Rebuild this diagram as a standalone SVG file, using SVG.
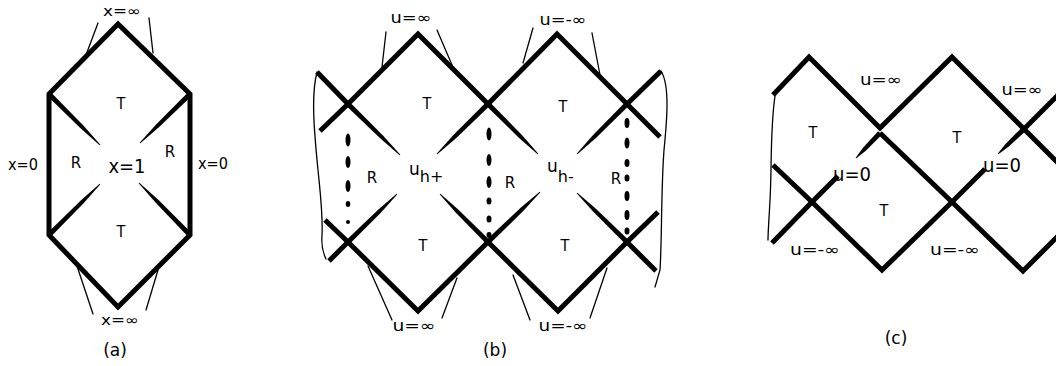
<svg xmlns="http://www.w3.org/2000/svg" width="1056" height="366" viewBox="0 0 1056 366">
<style>
.k{fill:none;stroke:#000;stroke-width:5;stroke-linejoin:miter;stroke-linecap:butt}
.s{fill:#000;stroke:none}
.t{fill:none;stroke:#000;stroke-width:1.3;stroke-linecap:round}
.l{font-family:"DejaVu Sans","Liberation Sans",sans-serif;fill:#000}
.T{font-family:"DejaVu Sans Condensed","DejaVu Sans","Liberation Sans",sans-serif;font-size:16px;fill:#000;text-anchor:middle}
.c{text-anchor:middle}
</style>
<rect width="1056" height="366" fill="#fff"/>

<!-- Panel (a) -->
<g id="panel-a">
  <g id="a-lines">
    <path class="k" d="M49,94 L118,24 L190,94 L190,235 L118,307 L49,235 Z"/>
    <polygon class="s" points="50.84,92.16 83.6,125.8 100.35,144.65 99.65,145.35 80.8,128.6 47.16,95.84"/>
    <polygon class="s" points="191.84,95.84 158.9,127.3 140.35,143.35 139.65,142.65 156.1,124.5 188.16,92.16"/>
    <polygon class="s" points="50.84,236.84 83.6,203.3 100.35,184.35 99.65,183.65 80.8,200.5 47.16,233.16"/>
    <polygon class="s" points="191.84,233.16 158.3,199.8 139.35,182.65 138.65,183.35 155.5,202.6 188.16,236.84"/>
  </g>
  <g id="a-pointers">
    <line class="t" x1="98" y1="23" x2="86" y2="55"/>
    <line class="t" x1="149" y1="18" x2="153" y2="53"/>
    <line class="t" x1="77" y1="266" x2="93" y2="314"/>
    <line class="t" x1="158" y1="270" x2="146" y2="310"/>
  </g>
  <g id="a-labels">
    <text class="l c" x="122" y="16" font-size="14" textLength="38" lengthAdjust="spacingAndGlyphs">x=∞</text>
    <text class="l c" x="120" y="325" font-size="14" textLength="38" lengthAdjust="spacingAndGlyphs">x=∞</text>
    <text class="l c" x="23" y="170" font-size="16" textLength="30" lengthAdjust="spacingAndGlyphs">x=0</text>
    <text class="l c" x="213" y="169" font-size="16" textLength="30" lengthAdjust="spacingAndGlyphs">x=0</text>
    <text class="l c" x="127" y="173" font-size="19" textLength="37" lengthAdjust="spacingAndGlyphs">x=1</text>
    <text class="l c" x="76" y="168" font-size="15">R</text>
    <text class="l c" x="170" y="157" font-size="15">R</text>
    <text class="T" x="121" y="109">T</text>
    <text class="T" x="121" y="237">T</text>
    <text class="l c" x="115" y="356" font-size="17">(a)</text>
  </g>
</g>

<!-- Panel (b) -->
<g id="panel-b">
  <g id="b-lines">
    <polyline class="k" points="320,131 348,104 418,34 488,104"/>
    <polyline class="k" points="488,104 557,34 627,104 660,137"/>
    <line class="k" x1="627" y1="104" x2="661" y2="71"/>
    <line class="k" x1="317" y1="72" x2="348" y2="104"/>
    <polygon class="s" points="349.84,102.16 383.2,135.8 400.35,154.65 399.65,155.35 380.4,138.6 346.16,105.84"/>
    <polygon class="s" points="489.84,102.16 521.9,135.1 538.35,153.65 537.65,154.35 519.1,137.9 486.16,105.84"/>
    <polygon class="s" points="489.84,105.84 456.3,137.9 437.35,154.35 436.65,153.65 453.4,135.1 486.16,102.16"/>
    <polygon class="s" points="628.84,105.84 595.9,137.9 577.35,154.35 576.65,153.65 593.1,135.1 625.16,102.16"/>
    <polyline class="k" points="325,220 348,242 418,311 488,242"/>
    <line class="k" x1="348" y1="242" x2="329" y2="261"/>
    <polyline class="k" points="488,242 558,311 627,242 658,212"/>
    <line class="k" x1="627" y1="242" x2="656" y2="271"/>
    <polygon class="s" points="349.84,243.84 381.3,212.2 397.35,194.35 396.65,193.65 378.4,209.4 346.16,240.16"/>
    <polygon class="s" points="489.84,243.84 523.2,210.9 540.35,192.35 539.65,191.65 520.4,208.1 486.16,240.16"/>
    <polygon class="s" points="489.84,240.16 458.2,209.4 440.35,193.65 439.65,194.35 455.4,212.2 486.16,243.84"/>
    <polygon class="s" points="628.84,240.16 595.9,208.7 577.35,192.65 576.65,193.35 593.1,211.6 625.16,243.84"/>
  </g>
  <g id="b-edges">
    <path class="t" d="M317,72 C311,95 314,130 318,170 C321,200 323,215 322,235 C321,248 324,255 326,259"/>
    <path class="t" d="M661,71 C670,85 667,120 664,150 C661,190 662,240 660,270 L655,287"/>
  </g>
  <g id="b-horizons">
    <ellipse class="s" cx="348" cy="140" rx="2.5" ry="6.5"/>
    <ellipse class="s" cx="348" cy="162" rx="2.5" ry="6"/>
    <ellipse class="s" cx="348" cy="186" rx="2.5" ry="6"/>
    <ellipse class="s" cx="348" cy="204" rx="2.3" ry="3"/>
    <ellipse class="s" cx="348" cy="222" rx="2" ry="2"/>
    <ellipse class="s" cx="489" cy="134" rx="2.5" ry="6.5"/>
    <ellipse class="s" cx="489" cy="160" rx="2.5" ry="6"/>
    <ellipse class="s" cx="489" cy="182" rx="2.5" ry="6"/>
    <ellipse class="s" cx="489" cy="201" rx="2.5" ry="3.5"/>
    <ellipse class="s" cx="489" cy="219" rx="2.5" ry="3.5"/>
    <ellipse class="s" cx="489" cy="235" rx="2.5" ry="3"/>
    <ellipse class="s" cx="627" cy="123" rx="2.5" ry="5"/>
    <ellipse class="s" cx="627" cy="143" rx="2.5" ry="5.5"/>
    <ellipse class="s" cx="627" cy="163" rx="2.5" ry="4"/>
    <ellipse class="s" cx="627" cy="178" rx="2.5" ry="3.5"/>
    <ellipse class="s" cx="627" cy="196" rx="2.5" ry="5"/>
    <ellipse class="s" cx="627" cy="215" rx="2.5" ry="5"/>
    <ellipse class="s" cx="627" cy="231" rx="2.5" ry="3.5"/>
  </g>
  <g id="b-pointers">
    <line class="t" x1="386" y1="32" x2="382" y2="67"/>
    <line class="t" x1="437" y1="30" x2="455" y2="72"/>
    <line class="t" x1="533" y1="28" x2="523" y2="63"/>
    <line class="t" x1="592" y1="33" x2="600" y2="75"/>
    <line class="t" x1="368" y1="266" x2="392" y2="320"/>
    <line class="t" x1="457" y1="278" x2="442" y2="318"/>
    <line class="t" x1="513" y1="275" x2="530" y2="320"/>
    <line class="t" x1="607" y1="268" x2="590" y2="318"/>
  </g>
  <g id="b-labels">
    <text class="l c" x="411" y="23" font-size="15" textLength="41" lengthAdjust="spacingAndGlyphs">u=∞</text>
    <text class="l c" x="563" y="25" font-size="15" textLength="47" lengthAdjust="spacingAndGlyphs">u=-∞</text>
    <text class="l c" x="414" y="331" font-size="15" textLength="43" lengthAdjust="spacingAndGlyphs">u=∞</text>
    <text class="l c" x="563" y="331" font-size="15" textLength="49" lengthAdjust="spacingAndGlyphs">u=-∞</text>
    <text class="l c" x="372" y="183" font-size="15">R</text>
    <text class="l c" x="510" y="188" font-size="15">R</text>
    <text class="l c" x="616" y="184" font-size="15">R</text>
    <text class="l" x="409" y="175" font-size="17">u<tspan dy="7" font-size="16">h+</tspan></text>
    <text class="l" x="547" y="172" font-size="17">u<tspan dy="10" font-size="16">h-</tspan></text>
    <text class="T" x="427" y="109">T</text>
    <text class="T" x="563" y="112">T</text>
    <text class="T" x="423" y="251">T</text>
    <text class="T" x="565" y="251">T</text>
    <text class="l c" x="495" y="356" font-size="17">(b)</text>
  </g>
</g>

<!-- Panel (c) -->
<g id="panel-c">
  <g id="c-lines">
    <polyline class="k" points="773,95 809,57 880,128 952,57 1023,128 1058,163"/>
    <polyline class="k" points="880,133 952,202 1023,271 1058,236"/>
    <polyline class="k" points="773,165 812,202 882,270 952,202 985,169"/>
    <polyline class="k" points="772,243 812,202 838,176"/>
    <polygon class="s" points="881.84,134.84 865.8,150.7 856.35,158.35 855.65,157.65 863,147.8 878.16,131.16"/>
    <polygon class="s" points="1024.84,131.84 1008.2,147 998.35,154.35 997.65,153.65 1005.3,144.2 1021.16,128.16"/>
    <line class="k" x1="1022" y1="131" x2="1058" y2="95"/>
  </g>
  <g id="c-edge">
    <path class="t" d="M775,96 C770,130 772,165 770,200 C769,220 768,232 768,240"/>
  </g>
  <g id="c-labels">
    <text class="l c" x="881" y="85" font-size="15" textLength="42" lengthAdjust="spacingAndGlyphs">u=∞</text>
    <text class="l c" x="1022" y="95" font-size="15" textLength="41" lengthAdjust="spacingAndGlyphs">u=∞</text>
    <text class="l" x="833" y="181" font-size="20" textLength="38" lengthAdjust="spacingAndGlyphs">u=0</text>
    <text class="l" x="983" y="172" font-size="20" textLength="38" lengthAdjust="spacingAndGlyphs">u=0</text>
    <text class="l c" x="815" y="255" font-size="15" textLength="50" lengthAdjust="spacingAndGlyphs">u=-∞</text>
    <text class="l c" x="955" y="255" font-size="15" textLength="50" lengthAdjust="spacingAndGlyphs">u=-∞</text>
    <text class="T" x="813" y="138">T</text>
    <text class="T" x="957" y="143">T</text>
    <text class="T" x="884" y="216">T</text>
    <text class="l c" x="896" y="344" font-size="17">(c)</text>
  </g>
</g>
</svg>
